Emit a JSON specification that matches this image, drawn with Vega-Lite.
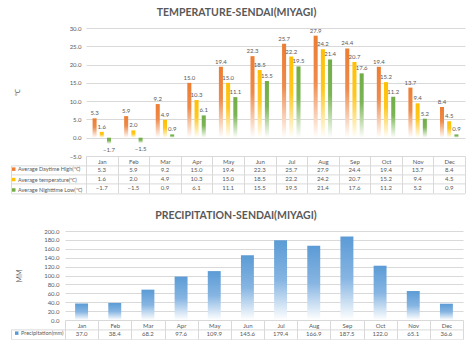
{
  "$schema": "https://vega.github.io/schema/vega-lite/v6.json",
  "padding": {"left": 10, "top": 7, "right": 0, "bottom": 0},
  "config": {
    "font": "Lato",
    "view": {"stroke": null},
    "axis": {"labelFont": "Lato", "titleFont": "Lato"},
    "legend": {"labelFont": "Lato"},
    "title": {"font": "Lato"}
  },
  "datasets": {
    "temp": [
      {"month": "Jan", "series": "Average Daytime High(℃)", "value": 5.3},
      {"month": "Feb", "series": "Average Daytime High(℃)", "value": 5.9},
      {"month": "Mar", "series": "Average Daytime High(℃)", "value": 9.2},
      {"month": "Apr", "series": "Average Daytime High(℃)", "value": 15.0},
      {"month": "May", "series": "Average Daytime High(℃)", "value": 19.4},
      {"month": "Jun", "series": "Average Daytime High(℃)", "value": 22.3},
      {"month": "Jul", "series": "Average Daytime High(℃)", "value": 25.7},
      {"month": "Aug", "series": "Average Daytime High(℃)", "value": 27.9},
      {"month": "Sep", "series": "Average Daytime High(℃)", "value": 24.4},
      {"month": "Oct", "series": "Average Daytime High(℃)", "value": 19.4},
      {"month": "Nov", "series": "Average Daytime High(℃)", "value": 13.7},
      {"month": "Dec", "series": "Average Daytime High(℃)", "value": 8.4},
      {"month": "Jan", "series": "Average temperature(℃)", "value": 1.6},
      {"month": "Feb", "series": "Average temperature(℃)", "value": 2.0},
      {"month": "Mar", "series": "Average temperature(℃)", "value": 4.9},
      {"month": "Apr", "series": "Average temperature(℃)", "value": 10.3},
      {"month": "May", "series": "Average temperature(℃)", "value": 15.0},
      {"month": "Jun", "series": "Average temperature(℃)", "value": 18.5},
      {"month": "Jul", "series": "Average temperature(℃)", "value": 22.2},
      {"month": "Aug", "series": "Average temperature(℃)", "value": 24.2},
      {"month": "Sep", "series": "Average temperature(℃)", "value": 20.7},
      {"month": "Oct", "series": "Average temperature(℃)", "value": 15.2},
      {"month": "Nov", "series": "Average temperature(℃)", "value": 9.4},
      {"month": "Dec", "series": "Average temperature(℃)", "value": 4.5},
      {"month": "Jan", "series": "Average Nighttime Low(℃)", "value": -1.7},
      {"month": "Feb", "series": "Average Nighttime Low(℃)", "value": -1.5},
      {"month": "Mar", "series": "Average Nighttime Low(℃)", "value": 0.9},
      {"month": "Apr", "series": "Average Nighttime Low(℃)", "value": 6.1},
      {"month": "May", "series": "Average Nighttime Low(℃)", "value": 11.1},
      {"month": "Jun", "series": "Average Nighttime Low(℃)", "value": 15.5},
      {"month": "Jul", "series": "Average Nighttime Low(℃)", "value": 19.5},
      {"month": "Aug", "series": "Average Nighttime Low(℃)", "value": 21.4},
      {"month": "Sep", "series": "Average Nighttime Low(℃)", "value": 17.6},
      {"month": "Oct", "series": "Average Nighttime Low(℃)", "value": 11.2},
      {"month": "Nov", "series": "Average Nighttime Low(℃)", "value": 5.2},
      {"month": "Dec", "series": "Average Nighttime Low(℃)", "value": 0.9}
    ],
    "prec": [
      {"month": "Jan", "series": "Precipitation(mm)", "value": 37.0},
      {"month": "Feb", "series": "Precipitation(mm)", "value": 38.4},
      {"month": "Mar", "series": "Precipitation(mm)", "value": 68.2},
      {"month": "Apr", "series": "Precipitation(mm)", "value": 97.6},
      {"month": "May", "series": "Precipitation(mm)", "value": 109.9},
      {"month": "Jun", "series": "Precipitation(mm)", "value": 145.6},
      {"month": "Jul", "series": "Precipitation(mm)", "value": 179.4},
      {"month": "Aug", "series": "Precipitation(mm)", "value": 166.9},
      {"month": "Sep", "series": "Precipitation(mm)", "value": 187.5},
      {"month": "Oct", "series": "Precipitation(mm)", "value": 122.0},
      {"month": "Nov", "series": "Precipitation(mm)", "value": 65.1},
      {"month": "Dec", "series": "Precipitation(mm)", "value": 36.6}
    ]
  },
  "spacing": 14,
  "resolve": {"scale": {"color": "independent", "x": "independent", "y": "independent"}, "legend": {"color": "independent"}},
  "vconcat": [
    {
      "bounds": "flush",
      "spacing": 0,
      "resolve": {"scale": {"color": "independent", "x": "independent", "y": "independent"}, "legend": {"color": "independent"}},
      "hconcat": [
        {
          "width": 21,
          "height": 10,
          "data": {"values": [{"t": ""}]},
          "mark": {"type": "text", "opacity": 0},
          "encoding": {"text": {"field": "t", "type": "nominal"}}
        },
        {
          "bounds": "flush",
          "spacing": 9.4,
          "resolve": {"scale": {"color": "independent", "x": "independent", "y": "independent"}, "legend": {"color": "independent"}},
          "vconcat": [
            {
              "width": 379,
              "height": 128,
              "title": {"text": "TEMPERATURE-SENDAI(MIYAGI)", "dx": -39, "fontSize": 10.5, "fontWeight": "bold", "color": "#595959", "offset": 7},
              "data": {"name": "temp"},
              "encoding": {
                "x": {"field": "month", "type": "nominal", "sort": ["Jan","Feb","Mar","Apr","May","Jun","Jul","Aug","Sep","Oct","Nov","Dec"],
                  "scale": {"paddingInner": 0, "paddingOuter": 0},
                  "axis": {"title": null, "labelAngle": 0, "labelFontSize": 6, "labelColor": "#595959", "domain": false, "ticks": true, "tickBand": "extent", "tickSize": 9.4, "tickColor": "#d9d9d9", "labelPadding": -4.2, "labelBaseline": "middle", "grid": false}},
                "xOffset": {"field": "series", "type": "nominal",
                  "scale": {"domain": ["Average Daytime High(℃)", "Average temperature(℃)", "Average Nighttime Low(℃)"], "paddingInner": 0.44, "paddingOuter": 0.91}},
                "y": {"field": "value", "type": "quantitative",
                  "scale": {"domain": [-5, 30], "nice": false, "zero": false},
                  "axis": {"values": [-5,0,5,10,15,20,25,30], "format": ".1f", "title": "℃", "titleFontSize": 7, "titleColor": "#595959", "titleFontWeight": "normal", "titlePadding": 46, "labelFontSize": 6, "labelColor": "#595959", "labelPadding": 5, "ticks": false, "domain": false, "gridColor": "#d9d9d9", "minExtent": 20, "maxExtent": 20}}
              },
              "layer": [
                {"transform": [{"filter": "datum.series === 'Average Daytime High(℃)'"}],
                  "mark": {"type": "bar", "color": {"gradient": "linear", "x1": 0, "y1": 0, "x2": 0, "y2": 1, "stops": [{"offset": 0, "color": "#ED7D31"}, {"offset": 0.45, "color": "#EE8A4A"}, {"offset": 1, "color": "#ffffff"}]}}},
                {"transform": [{"filter": "datum.series === 'Average temperature(℃)'"}],
                  "mark": {"type": "bar", "color": {"gradient": "linear", "x1": 0, "y1": 0, "x2": 0, "y2": 1, "stops": [{"offset": 0, "color": "#FFC000"}, {"offset": 0.45, "color": "#FFC820"}, {"offset": 1, "color": "#ffffff"}]}}},
                {"transform": [{"filter": "datum.series === 'Average Nighttime Low(℃)'"}],
                  "mark": {"type": "bar", "color": {"gradient": "linear", "x1": 0, "y1": 0, "x2": 0, "y2": 1, "stops": [{"offset": 0, "color": "#70AD47"}, {"offset": 0.45, "color": "#7BB555"}, {"offset": 1, "color": "#ffffff"}]}}},
                {"transform": [{"filter": "datum.value >= 0"}],
                  "mark": {"type": "text", "baseline": "bottom", "dy": -2, "fontSize": 6, "color": "#595959"},
                  "encoding": {"text": {"field": "value", "type": "quantitative", "format": ".1f"}}},
                {"transform": [{"filter": "datum.value < 0"}],
                  "mark": {"type": "text", "baseline": "top", "dy": 3, "fontSize": 6, "color": "#595959"},
                  "encoding": {"text": {"field": "value", "type": "quantitative", "format": ".1f"}}}
              ]
            },
            {
              "width": 379,
              "height": 27.6,
              "data": {"name": "temp"},
              "encoding": {
                "x": {"field": "month", "type": "nominal", "sort": ["Jan","Feb","Mar","Apr","May","Jun","Jul","Aug","Sep","Oct","Nov","Dec"],
                  "scale": {"paddingInner": 0, "paddingOuter": 0},
                  "axis": {"title": null, "labels": false, "ticks": false, "domain": false, "grid": true, "tickBand": "extent", "gridColor": "#d9d9d9"}},
                "y": {"field": "series", "type": "nominal", "sort": ["Average Daytime High(℃)", "Average temperature(℃)", "Average Nighttime Low(℃)"],
                  "scale": {"paddingInner": 0, "paddingOuter": 0},
                  "axis": {"title": null, "labels": false, "domain": true, "domainColor": "#d9d9d9", "ticks": true, "tickSize": -75, "tickColor": "#d9d9d9", "tickBand": "extent", "offset": 75, "grid": true, "gridColor": "#d9d9d9"}}
              },
              "layer": [
                {"mark": {"type": "text", "fontSize": 6, "color": "#595959"},
                  "encoding": {"text": {"field": "value", "type": "quantitative", "format": ".1f"}}},
                {"mark": {"type": "square", "opacity": 0},
                  "encoding": {"color": {"field": "series", "type": "nominal",
                    "scale": {"domain": ["Average Daytime High(℃)", "Average temperature(℃)", "Average Nighttime Low(℃)"], "range": ["#ED7D31", "#FFC000", "#70AD47"]},
                    "legend": {"orient": "left", "title": null, "offset": -74, "symbolType": "square", "symbolSize": 12, "symbolOpacity": 1, "symbolStrokeWidth": 0, "labelFontSize": 5.5, "labelColor": "#595959", "rowPadding": 3.4, "labelOffset": 1.5, "padding": 1}}}}
              ]
            }
          ]
        }
      ]
    },
    {
      "bounds": "flush",
      "spacing": 9.4,
      "resolve": {"scale": {"color": "independent", "x": "independent", "y": "independent"}, "legend": {"color": "independent"}},
      "vconcat": [
        {
          "width": 398,
          "height": 89,
          "title": {"text": "PRECIPITATION-SENDAI(MIYAGI)", "dx": -28, "fontSize": 10.5, "fontWeight": "bold", "color": "#595959", "offset": 7},
          "data": {"name": "prec"},
          "mark": {"type": "bar", "width": {"band": 0.39}, "color": {"gradient": "linear", "x1": 0, "y1": 0, "x2": 0, "y2": 1, "stops": [{"offset": 0, "color": "#5B9BD5"}, {"offset": 0.5, "color": "#86B5E2"}, {"offset": 1, "color": "#ffffff"}]}},
          "encoding": {
            "x": {"field": "month", "type": "nominal", "sort": ["Jan","Feb","Mar","Apr","May","Jun","Jul","Aug","Sep","Oct","Nov","Dec"],
              "scale": {"paddingInner": 0, "paddingOuter": 0},
              "axis": {"title": null, "labelAngle": 0, "labelFontSize": 6, "labelColor": "#595959", "domain": false, "ticks": true, "tickBand": "extent", "tickSize": 9.4, "tickColor": "#d9d9d9", "labelPadding": -4.2, "labelBaseline": "middle", "grid": false}},
            "y": {"field": "value", "type": "quantitative",
              "scale": {"domain": [0, 200], "nice": false},
              "axis": {"values": [0,20,40,60,80,100,120,140,160,180,200], "format": ".1f", "title": "MM", "titleFontSize": 7, "titleColor": "#595959", "titleFontWeight": "normal", "titlePadding": 21, "labelFontSize": 6, "labelColor": "#595959", "labelPadding": 6, "ticks": false, "domain": false, "gridColor": "#d9d9d9", "minExtent": 22, "maxExtent": 22}}
          }
        },
        {
          "width": 398,
          "height": 9.8,
          "data": {"name": "prec"},
          "encoding": {
            "x": {"field": "month", "type": "nominal", "sort": ["Jan","Feb","Mar","Apr","May","Jun","Jul","Aug","Sep","Oct","Nov","Dec"],
              "scale": {"paddingInner": 0, "paddingOuter": 0},
              "axis": {"title": null, "labels": false, "ticks": false, "domain": false, "grid": true, "tickBand": "extent", "gridColor": "#d9d9d9"}},
            "y": {"field": "series", "type": "nominal",
              "scale": {"paddingInner": 0, "paddingOuter": 0},
              "axis": {"title": null, "labels": false, "domain": true, "domainColor": "#d9d9d9", "ticks": true, "tickSize": -54, "tickColor": "#d9d9d9", "tickBand": "extent", "offset": 54, "grid": true, "gridColor": "#d9d9d9"}}
          },
          "layer": [
            {"mark": {"type": "text", "fontSize": 6, "color": "#595959"},
              "encoding": {"text": {"field": "value", "type": "quantitative", "format": ".1f"}}},
            {"mark": {"type": "square", "opacity": 0},
              "encoding": {"color": {"field": "series", "type": "nominal",
                "scale": {"domain": ["Precipitation(mm)"], "range": ["#5B9BD5"]},
                "legend": {"orient": "left", "title": null, "offset": -55, "symbolType": "square", "symbolSize": 12, "symbolOpacity": 1, "symbolStrokeWidth": 0, "labelFontSize": 5.5, "labelColor": "#595959", "labelOffset": 1.5, "padding": 1}}}}
          ]
        }
      ]
    }
  ]
}
